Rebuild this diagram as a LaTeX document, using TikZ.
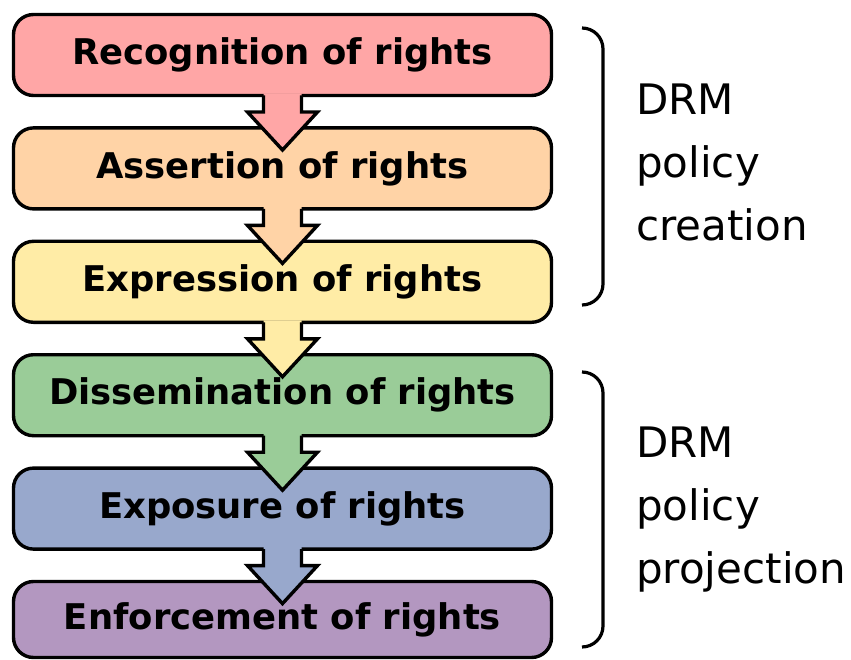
\documentclass[tikz,border=0pt]{standalone}
\usepackage{fontspec}
\setmainfont{DejaVu Sans}
\usetikzlibrary{positioning}

\definecolor{recog}{HTML}{FFA6A6}
\definecolor{assert}{HTML}{FFD3A6}
\definecolor{express}{HTML}{FFECA6}
\definecolor{dissem}{HTML}{9ACC98}
\definecolor{expos}{HTML}{98A8CC}
\definecolor{enforce}{HTML}{B397C0}

\tikzset{
  stage/.style={draw, line width=3.4pt, rounded corners=20pt, outer sep=0pt,
    inner sep=0pt, minimum width=538pt, minimum height=81pt,
    font=\fontsize{35.4}{40}\selectfont\bfseries},
  arrline/.style={line width=3.4pt, line join=miter},
  brk/.style={line width=3.2pt, rounded corners=21pt},
  phase/.style={anchor=base west, align=left, inner sep=0pt,
    font=\fontsize{42}{63}\selectfont}
}

\begin{document}
\begin{tikzpicture}[x=1pt, y=1pt, node distance=32.4pt]
        \useasboundingbox (0,0) rectangle (851,-660);

        \node[stage, fill=recog] (Rec) at (282.5,-55) {Recognition of rights};
        \node[stage, fill=assert, below=of Rec] (Ass) {Assertion of rights};
        \node[stage, fill=express, below=of Ass] (Expr) {Expression of rights};
        \node[stage, fill=dissem, below=of Expr] (Dis) {Dissemination of rights};
        \node[stage, fill=expos, below=of Dis] (Expo) {Exposure of rights};
        \node[stage, fill=enforce, below=of Expo, minimum height=76pt] (Enf) {Enforcement of rights};

        % block arrows between the stages
        \foreach \a/\c in {Rec/recog, Ass/assert, Expr/express, Dis/dissem, Expo/expos} {
          \fill[\c, shift={(\a.south)}] (-19,2) -- (-19,-16.5) -- (-35,-16.5) -- (0,-54.5)
            -- (35,-16.5) -- (19,-16.5) -- (19,2) -- cycle;
          \draw[arrline, shift={(\a.south)}] (-19,0) -- (-19,-16.5) -- (-35,-16.5) -- (0,-54.5)
            -- (35,-16.5) -- (19,-16.5) -- (19,0);
        }

        \draw[brk] (582,-28) -- (603,-28) -- (603,-305) -- (582,-305);
        \draw[brk] (582,-372) -- (603,-372) -- (603,-647) -- (582,-647);

        \node[phase] (Crea) at (636,-241) {DRM\\policy\\creation};
        \node[phase] (Proj) at (636,-583) {DRM\\policy\\projection};
      \end{tikzpicture}
\end{document}
